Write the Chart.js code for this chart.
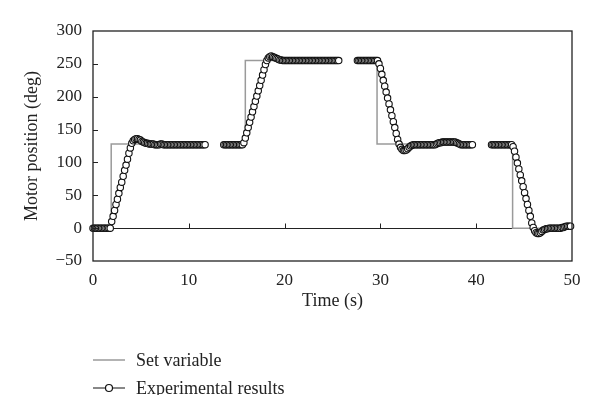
<!DOCTYPE html>
<html>
<head>
<meta charset="utf-8">
<script src="https://cdn.jsdelivr.net/npm/chart.js@4"></script>
<style>
  body { margin: 0; background: #fff; }
  #wrap { position: relative; width: 600px; height: 395px; }
  .leg { position: absolute; left: 93px; font-family: "Liberation Serif", serif; font-size: 18px; color: #222; height: 24px; line-height: 24px; }
  .leg svg { position: absolute; left: 0; top: 0; }
  .leg span { position: absolute; left: 43px; white-space: nowrap; }
</style>
</head>
<body>
<div id="wrap">
  <canvas id="motorChart" width="600" height="395"></canvas>
  <div class="leg" id="legSet" style="top:348px"></div>
  <div class="leg" id="legExp" style="top:376px"></div>
</div>
<script>
// axis ticks
const xTicks = [0, 10, 20, 30, 40, 50];
const yTicks = [-50, 0, 50, 100, 150, 200, 250, 300];

// set variable (step signal, null = logging gap)
const setTimes  = [0, 1.9, 1.9, 11.7, 11.7, 13.65, 15.9, 15.9, 25.65, 25.65, 27.6, 29.65, 29.65, 39.6, 39.6, 41.6, 43.8, 43.8, 49.85];
const setValues = [0, 0, 128, 128, null, 128, 128, 255, 255, null, 255, 255, 128, 128, null, 128, 128, 0, 0];

// experimental results, sampled every 0.15 s, four logged runs
const sampleStep = 0.15;
const runStarts = [0, 13.65, 27.6, 41.6];

const run1 = [
  0, 0, 0, 0, 0, 0, 0, 0, 0, 0, 0, 0, 0,
  10, 18, 27, 36, 44, 53, 62, 70, 79, 88, 96, 105, 114, 122, 129, 133,
  135, 136, 136, 135, 134, 132, 131, 130, 129, 129, 128,
  128, 128, 128, 127, 127, 127, 127, 128, 128, 127, 127, 127, 127, 127, 127, 127, 127, 127, 127, 127,
  127, 127, 127, 127, 127, 127, 127, 127, 127, 127, 127, 127, 127, 127, 127, 127, 127, 127, 127
];
const run2 = [
  127, 127, 127, 127, 127, 127, 127, 127, 127, 127, 127, 127, 127, 127,
  130, 137, 145, 153, 161, 169, 177, 185, 193, 201, 209, 217, 225, 233, 241, 249, 255,
  259, 261, 262, 261, 260, 259, 258, 257, 256, 256,
  255, 255, 255, 255, 255, 255, 255, 255, 255, 255, 255, 255, 255, 255, 255, 255, 255, 255, 255, 255,
  255, 255, 255, 255, 255, 255, 255, 255, 255, 255, 255, 255, 255, 255, 255, 255, 255, 255, 255, 255
];
const run3 = [
  255, 255, 255, 255, 255, 255, 255, 255, 255, 255, 255, 255, 255, 255, 255,
  250, 243, 234, 225, 216, 207, 198, 189, 180, 171, 162, 153, 144, 135, 128,
  123, 120, 118, 118, 119, 121, 123, 125, 126, 127,
  127, 127, 127, 127, 127, 127, 127, 127, 127, 127, 127, 127, 127, 127, 127,
  128, 129, 130, 130, 131, 131, 131, 131, 131, 131, 131, 131, 131, 131, 130, 129, 128,
  127, 127, 127, 127, 127, 127, 127, 127, 127
];
const run4 = [
  127, 127, 127, 127, 127, 127, 127, 127, 127, 127, 127, 127, 127, 127, 127,
  124, 117, 108, 99, 90, 81, 72, 63, 54, 45, 36, 27, 18, 8, 1,
  -4, -7, -8, -8, -7, -5, -3, -2, -1, -1,
  0, 0, 0, 0, 0, 0, 0, 0, 0, 1, 1, 2, 3, 3, 3, 3
];

const runs = [run1, run2, run3, run4];

function buildExperimental() {
  const pts = [];
  runs.forEach((vals, r) => {
    vals.forEach((v, i) => pts.push({ x: +(runStarts[r] + i * sampleStep).toFixed(2), y: v }));
    if (r < runs.length - 1) pts.push({ x: runStarts[r + 1] - 0.5, y: null });
  });
  return pts;
}

const setData = setTimes.map((t, i) => ({ x: t, y: setValues[i] }));

// frame, zero line and inward ticks like the original figure
const framePlugin = {
  id: 'frame',
  beforeDatasetsDraw(chart) {
    const { ctx, chartArea: a, scales: { x, y } } = chart;
    const y0 = Math.round(y.getPixelForValue(0)) + 0.5;
    ctx.save();
    ctx.strokeStyle = '#222';
    ctx.lineWidth = 1;
    ctx.beginPath();
    ctx.moveTo(a.left, y0);
    ctx.lineTo(a.right, y0);
    xTicks.slice(1, -1).forEach(t => {
      const px = Math.round(x.getPixelForValue(t)) + 0.5;
      ctx.moveTo(px, y0);
      ctx.lineTo(px, y0 - 5);
    });
    ctx.stroke();
    ctx.restore();
  },
  afterDatasetsDraw(chart) {
    const { ctx, chartArea: a, scales: { y } } = chart;
    ctx.save();
    ctx.strokeStyle = '#222';
    ctx.lineWidth = 1.3;
    ctx.strokeRect(a.left, a.top, a.right - a.left, a.bottom - a.top);
    ctx.lineWidth = 1;
    ctx.beginPath();
    yTicks.slice(1, -1).forEach(v => {
      const py = Math.round(y.getPixelForValue(v)) + 0.5;
      ctx.moveTo(a.left, py);
      ctx.lineTo(a.left + 5, py);
    });
    ctx.stroke();
    ctx.restore();
  }
};

Chart.defaults.font.family = '"Liberation Serif", serif';
Chart.defaults.color = '#222';

const ctx = document.getElementById('motorChart').getContext('2d');
new Chart(ctx, {
  type: 'line',
  data: {
    datasets: [
      {
        label: 'Experimental results',
        data: buildExperimental(),
        borderColor: '#111',
        borderWidth: 1,
        pointRadius: 3.2,
        pointBorderWidth: 1.1,
        pointBorderColor: '#111',
        pointBackgroundColor: '#fff',
        spanGaps: false,
        clip: false,
        order: 1
      },
      {
        label: 'Set variable',
        data: setData,
        borderColor: '#9a9a9a',
        borderWidth: 1.5,
        pointRadius: 0,
        spanGaps: false,
        clip: false,
        order: 2
      }
    ]
  },
  options: {
    responsive: false,
    animation: false,
    layout: { padding: { left: 0, top: 31, right: 28, bottom: 81 } },
    plugins: { legend: { display: false }, tooltip: { enabled: false } },
    scales: {
      x: {
        type: 'linear',
        min: 0, max: 50,
        afterBuildTicks: s => { s.ticks = xTicks.map(v => ({ value: v })); },
        afterFit: s => { s.height = 53; },
        grid: { display: false },
        border: { display: false },
        ticks: { font: { size: 17 }, padding: 1, maxRotation: 0 },
        title: { display: true, text: 'Time (s)', font: { size: 18 }, padding: { top: 0, bottom: 2 } }
      },
      y: {
        min: -50, max: 300,
        afterBuildTicks: s => { s.ticks = yTicks.map(v => ({ value: v })); },
        afterFit: s => { s.width = 93; },
        grid: { display: false },
        border: { display: false },
        ticks: { font: { size: 17 }, padding: 3, callback: v => String(v).replace('-', '\u2212') },
        title: { display: true, text: 'Motor position (deg)', font: { size: 18 }, padding: { top: 21, bottom: 0 } }
      }
    }
  },
  plugins: [framePlugin]
});

// legend below the plot
document.getElementById('legSet').innerHTML =
  '<svg width="40" height="24"><line x1="0" y1="12" x2="32" y2="12" stroke="#9a9a9a" stroke-width="1.5"/></svg><span>Set variable</span>';
document.getElementById('legExp').innerHTML =
  '<svg width="40" height="24"><line x1="0" y1="12" x2="32" y2="12" stroke="#111" stroke-width="1"/><circle cx="16" cy="12" r="3.5" fill="#fff" stroke="#111" stroke-width="1.2"/></svg><span>Experimental results</span>';
</script>
</body>
</html>
